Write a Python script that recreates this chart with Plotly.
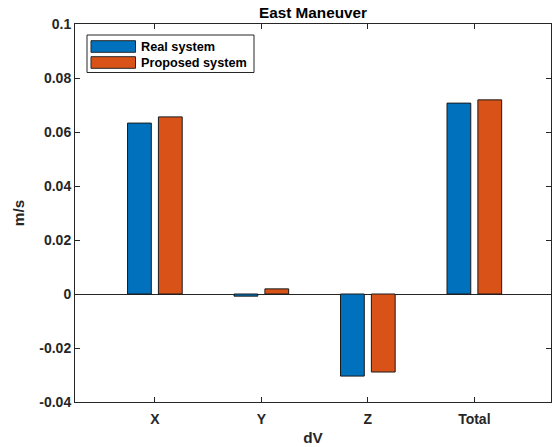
import plotly.graph_objects as go

categories = ["X", "Y", "Z", "Total"]
real_system = [0.0633, -0.0008, -0.0304, 0.0707]
proposed_system = [0.0656, 0.0019, -0.0289, 0.0719]
series_names = ["Real system", "Proposed system"]
series_colors = ["#0072BD", "#D95319"]
ytick_vals = [-0.04, -0.02, 0, 0.02, 0.04, 0.06, 0.08, 0.1]
ytick_text = ["-0.04", "-0.02", "0", "0.02", "0.04", "0.06", "0.08", "0.1"]

xpos = list(range(1, len(categories) + 1))
FONT = "Liberation Sans, Arial, Helvetica, sans-serif"
W, H = 553, 447
L, R, T, B = 75, 2, 24, 45
pw, ph = W - L - R, H - T - B

fig = go.Figure()
for name, vals, col in zip(series_names, [real_system, proposed_system], series_colors):
    fig.add_trace(go.Bar(x=xpos, y=vals, name=name, showlegend=False,
                         marker=dict(color=col, line=dict(color="#1a1a1a", width=1))))

# manual legend (MATLAB style wide swatches)
def px(xp):
    return (xp - L) / pw
def py(yp):
    return (H - B - yp) / ph

shapes = [dict(type="rect", xref="paper", yref="paper",
               x0=px(87), x1=px(254), y0=py(72.5), y1=py(35),
               line=dict(color="#262626", width=1), fillcolor="white", layer="above")]
annotations = []
rows = [(40.7, 52.3), (56.7, 68.3)]
for (y0, y1), name, col in zip(rows, series_names, series_colors):
    shapes.append(dict(type="rect", xref="paper", yref="paper",
                       x0=px(91), x1=px(135.5), y0=py(y1), y1=py(y0),
                       line=dict(color="#262626", width=1), fillcolor=col, layer="above"))
    annotations.append(dict(xref="paper", yref="paper", x=px(139), y=py((y0 + y1) / 2),
                            xanchor="left", yanchor="middle", showarrow=False, text=name,
                            font=dict(family=FONT, size=12.7, color="#000000", weight="bold")))

fig.update_layout(
    width=W, height=H,
    margin=dict(l=L, r=R, t=T, b=B),
    paper_bgcolor="white", plot_bgcolor="white",
    barmode="group", bargap=0.42, bargroupgap=0.23,
    title=dict(text="East Maneuver", x=0.5, xanchor="center", xref="paper",
               y=1 - 12.5 / H, yanchor="middle",
               font=dict(family=FONT, size=15.3, color="#000000", weight="bold")),
    shapes=shapes, annotations=annotations,
    showlegend=False,
)
fig.update_xaxes(
    range=[0.25, 4.72], tickvals=xpos, ticktext=categories,
    ticks="inside", ticklen=5, tickcolor="#262626",
    showline=True, linecolor="#262626", linewidth=1, mirror="ticks",
    showgrid=False, zeroline=False, automargin=False, ticklabelstandoff=4,
    tickfont=dict(family=FONT, size=14, color="#262626", weight="bold"),
    title=dict(text="dV", standoff=6,
               font=dict(family=FONT, size=15.3, color="#262626", weight="bold")),
)
fig.update_yaxes(
    range=[-0.04, 0.1], tickvals=ytick_vals, ticktext=ytick_text,
    ticks="inside", ticklen=5, tickcolor="#262626",
    showline=True, linecolor="#262626", linewidth=1, mirror="ticks",
    showgrid=False, zeroline=True, zerolinecolor="#262626", zerolinewidth=1,
    automargin=False,
    tickfont=dict(family=FONT, size=14, color="#262626", weight="bold"),
    title=dict(text="m/s", standoff=10,
               font=dict(family=FONT, size=15.3, color="#262626", weight="bold")),
)

fig.write_html("out.html", config={"displayModeBar": False},
               post_script="document.body.style.margin='0';document.body.style.overflow='hidden';")
